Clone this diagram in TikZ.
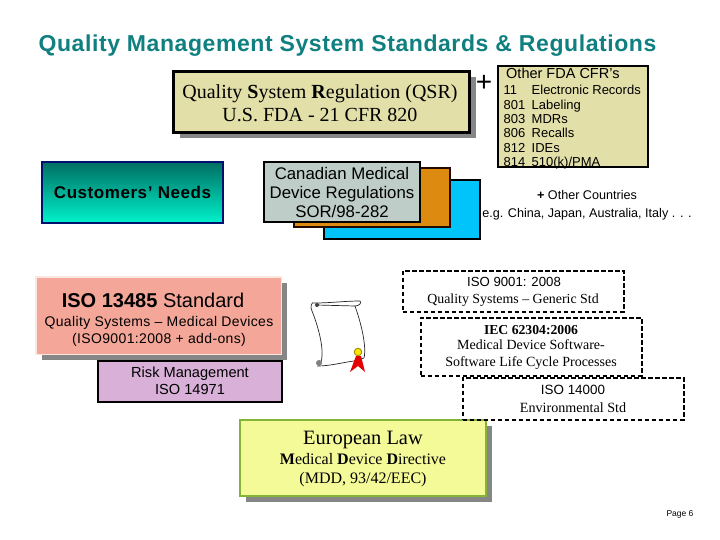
\documentclass[tikz,border=0pt]{standalone}
\usepackage{fontspec}
\setmainfont{Liberation Serif}
\setsansfont{Liberation Sans}
\usetikzlibrary{shadows}
\definecolor{titleteal}{HTML}{0F7F80}
\definecolor{khaki}{HTML}{E2DFA8}
\definecolor{shadowgray}{HTML}{868686}
\definecolor{cangray}{HTML}{BFCDC9}
\definecolor{orangebox}{HTML}{DC8A10}
\definecolor{bluebox}{HTML}{00C4FA}
\definecolor{salmon}{HTML}{F4A698}
\definecolor{salmonline}{HTML}{FBE6E0}
\definecolor{lilac}{HTML}{D8B0D8}
\definecolor{limefill}{HTML}{F4FA98}
\definecolor{limeline}{HTML}{84B436}
\definecolor{navyline}{HTML}{00106E}
\definecolor{tealtop}{HTML}{006E62}
\definecolor{tealbot}{HTML}{00F2CC}
\definecolor{darkline}{HTML}{240A00}
\tikzset{
  x=1pt,y=-1pt,
  boxnode/.style={rectangle,inner sep=0pt,align=center,text=black},
  grayshadow/.style={general shadow={shadow xshift=6pt,shadow yshift=-6pt,fill=shadowgray}},
  dashbox/.style={boxnode,draw=black,line width=2pt,dash pattern=on 4.5pt off 2.5pt},
  lab/.style={inner sep=0pt,align=center,text=black},
}
\newcommand{\sz}[2]{\fontsize{#1}{#2}\selectfont}
\begin{document}
\begin{tikzpicture}
\useasboundingbox (0,0) rectangle (720,540);
\fill[white] (0,0) rectangle (720,540);
% title
\node[lab,anchor=center,text=titleteal,font=\sffamily\bfseries\sz{23}{24}\addfontfeature{LetterSpace=2.5}] (title) at (347.5,46) {Quality Management System Standards \& Regulations};
% QSR
\node[boxnode,draw=black,line width=3pt,fill=khaki,minimum width=296pt,minimum height=61pt,grayshadow] (qsr) at (321.5,102) {};
\node[lab,font=\rmfamily\sz{20}{22.5}] (qsrtext) at (320,103) {Quality \textbf{S}ystem \textbf{R}egulation (QSR)\\U.S. FDA - 21 CFR 820};
\node[lab,font=\sffamily\sz{28}{30}] (plus) at (484,83) {+};
% Other FDA
\node[boxnode,draw=black,line width=2pt,fill=khaki,minimum width=150pt,minimum height=101pt] (fda) at (573,116.5) {};
\node[lab,anchor=north west,font=\sffamily\sz{14.5}{15}] (fdahead) at (506,67.5) {Other FDA CFR's};
\node[lab,anchor=north west,align=left,font=\sffamily\sz{13}{14.4}] (fdanum) at (503.5,84.5) {\strut 11\\801\\803\\806\\812\\814};
\node[lab,anchor=north west,align=left,font=\sffamily\sz{13}{14.4}] (fdatxt) at (531.5,84.5) {\strut Electronic Records\\Labeling\\MDRs\\Recalls\\IDEs\\510(k)/PMA};
% Customers
\node[boxnode,draw=navyline,line width=2.5pt,top color=tealtop,bottom color=tealbot,minimum width=181pt,minimum height=61pt,
  font=\sffamily\bfseries\sz{17}{19}\addfontfeature{LetterSpace=3.3}] (cust) at (132.5,192.5) {Customers' Needs};
% Canada stack
\node[boxnode,draw=black,line width=2pt,fill=bluebox,minimum width=156pt,minimum height=58pt] (blue) at (402,209.5) {};
\node[boxnode,draw=darkline,line width=2pt,fill=orangebox,minimum width=156pt,minimum height=59pt] (orange) at (372,197.5) {};
\node[boxnode,draw=black,line width=2pt,fill=cangray,minimum width=156pt,minimum height=60pt,
  font=\sffamily\sz{16.8}{19}] (canada) at (342,192) {Canadian Medical\\Device Regulations\\SOR/98-282};
% other countries
\node[lab,font=\sffamily\sz{12.6}{18}] (countries) at (587,205) {\textbf{+} Other Countries\\e.g. China, Japan, Australia, Italy . . .};
% ISO 13485
\node[boxnode,draw=salmonline,line width=1.5pt,fill=salmon,minimum width=245.5pt,minimum height=77.5pt,grayshadow] (iso) at (158.5,315.5) {};
\node[lab,font=\sffamily\sz{20}{22}] (isohead) at (153,300) {\textbf{ISO 13485} Standard};
\node[lab,font=\sffamily\sz{14}{17}\addfontfeature{LetterSpace=2.6}] (isosub) at (159,331) {Quality Systems -- Medical Devices\\(ISO9001:2008 + add-ons)};
% Risk
\node[boxnode,draw=black,line width=2pt,fill=lilac,minimum width=184pt,minimum height=41pt,
  font=\sffamily\sz{14.6}{17}] (risk) at (190,381) {Risk Management\\ISO 14971};
% scroll
\draw[black!85,line width=.7pt,fill=white] (315,303) .. controls (311,301) and (310,307) .. (312,311)
  .. controls (318,326) and (323,345) .. (322,356) .. controls (322,361) and (320,365) .. (318,366)
  .. controls (330,366) and (345,362) .. (354,361) -- (364,358)
  .. controls (367,345) and (360,320) .. (355,306)
  .. controls (359,306) and (362,303) .. (360,301) .. controls (345,301) and (330,303) .. (315,303) -- cycle;
\draw[black!85,line width=.7pt] (316,305) -- (355,306);
\fill[black!75] (317,305) circle[radius=2pt];
\fill[gray] (319,363) circle[radius=3pt];
\fill[red!90!black] (356,356) -- (350,372) -- (358,366) -- (365,372) -- (361,356) -- cycle;
\draw[olive,fill=yellow!85!orange,line width=.8pt] (358,352) circle[radius=3.8pt];
% European
\node[boxnode,draw=limeline,line width=2.5pt,fill=limefill,minimum width=246pt,minimum height=76pt,grayshadow] (eu) at (363,458) {};
\node[lab,font=\rmfamily\sz{20.4}{22}] (euhead) at (363,440) {European Law};
\node[lab,font=\rmfamily\sz{16}{19}] (eusub) at (363,470) {\textbf{M}edical \textbf{D}evice \textbf{D}irective\\(MDD, 93/42/EEC)};
% dashed
\node[dashbox,minimum width=221pt,minimum height=41pt] (d1) at (513,291) {};
\node[lab,font=\sffamily\sz{13.2}{14}] (d1a) at (514,282) {ISO 9001: 2008};
\node[lab,font=\rmfamily\sz{13.9}{15}] (d1b) at (513,300) {Quality Systems -- Generic Std};
\node[dashbox,minimum width=221pt,minimum height=58pt] (d2) at (531,346.5) {};
\node[lab,font=\rmfamily\bfseries\sz{13.7}{15}] (d2a) at (531,330) {IEC 62304:2006};
\node[lab,font=\rmfamily\sz{14}{17}] (d2b) at (531,355) {Medical Device Software-\\Software Life Cycle Processes};
\node[dashbox,minimum width=221pt,minimum height=42pt] (d3) at (573,398.5) {};
\node[lab,font=\sffamily\sz{13.4}{14}] (d3a) at (573,390) {ISO 14000};
\node[lab,font=\rmfamily\sz{14.1}{15}] (d3b) at (573,408) {Environmental Std};
% page
\node[lab,font=\sffamily\sz{8.5}{10}] (page) at (680,514) {Page 6};
\end{tikzpicture}
\end{document}
